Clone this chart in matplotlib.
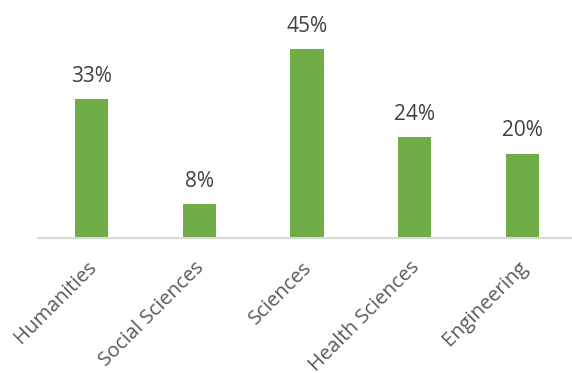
import matplotlib.pyplot as plt
import matplotlib.transforms as mtransforms

categories = ['Humanities', 'Social Sciences', 'Sciences', 'Health Sciences', 'Engineering']
values = [33, 8, 45, 24, 20]

BAR_COLOR = '#70AD47'

plt.rcParams['font.family'] = ['Open Sans', 'DejaVu Sans']

fig = plt.figure(figsize=(5.72, 3.73), dpi=100)
ax = fig.add_axes([38 / 572, 1 - 238 / 373, 536 / 572, 189 / 373 * 50 / 45])

x = range(len(categories))
bars = ax.bar(x, values, width=0.31, color=BAR_COLOR)
for b, v in zip(bars, values):
    ax.annotate(f'{v}%', (b.get_x() + b.get_width() / 2, v), xytext=(0, 9),
                textcoords='offset points', ha='center', va='bottom',
                fontsize=15, color='#404040')

ax.set_xlim(-0.5, 4.48)
ax.set_ylim(0, 50)
ax.set_yticks([])
ax.set_xticks(list(x))
ax.set_xticklabels(categories, rotation=45, ha='right', rotation_mode='anchor',
                   fontsize=14.5, color='#595959')
ax.tick_params(axis='x', length=0, pad=14)
shift = mtransforms.ScaledTranslation(-5 / 100, 0, fig.dpi_scale_trans)
for lbl in ax.get_xticklabels():
    lbl.set_transform(lbl.get_transform() + shift)
for s in ['top', 'right', 'left']:
    ax.spines[s].set_visible(False)
ax.spines['bottom'].set_color('#D9D9D9')
ax.spines['bottom'].set_linewidth(1.5)

fig.savefig('out.png', dpi=100)
